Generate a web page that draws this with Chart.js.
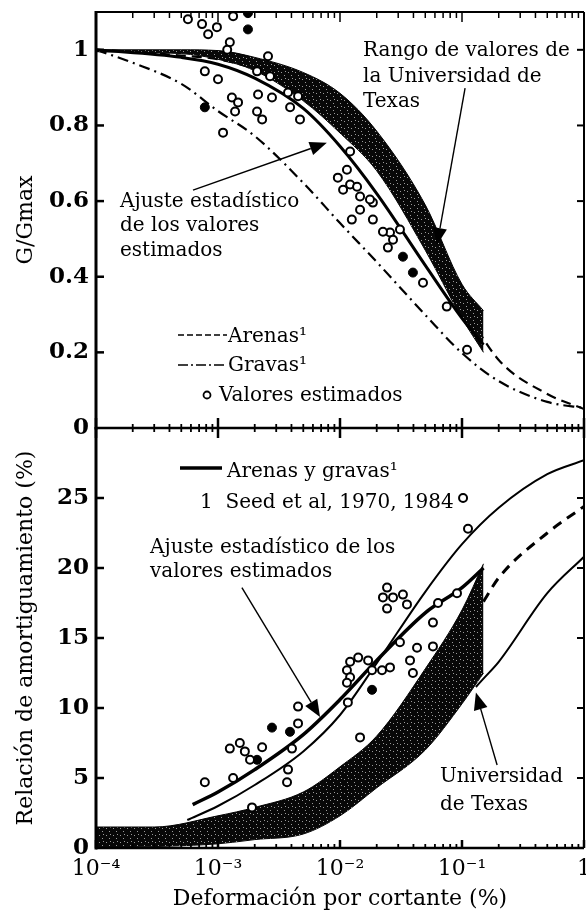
<!DOCTYPE html>
<html>
<head>
<meta charset="utf-8">
<script src="https://cdn.jsdelivr.net/npm/chart.js@4.4.1/dist/chart.umd.min.js"></script>
<style>
  html, body { margin: 0; padding: 0; background: #fff; }
  #wrap { position: relative; width: 586px; height: 910px; overflow: hidden; background: #fff; }
  #wrap canvas { position: absolute; left: 0; }
  #gTop { top: 0; }
  #dBot { top: 420px; }
</style>
</head>
<body>
<div id="wrap">
  <canvas id="gTop" width="586" height="440"></canvas>
  <canvas id="dBot" width="586" height="490"></canvas>
</div>
<script>
// ---- modulus reduction (G/Gmax) ----
const strainRef = [1e-4, 2e-4, 5e-4, 1e-3, 2e-3, 5e-3, 1e-2, 2e-2, 5e-2, 0.1, 0.2, 0.5, 1];
const gArenas = [1.0, 0.995, 0.985, 0.975, 0.95, 0.89, 0.81, 0.70, 0.50, 0.33, 0.18, 0.09, 0.05];
const gGravas = [1.0, 0.966, 0.91, 0.838, 0.772, 0.648, 0.542, 0.439, 0.299, 0.198, 0.124, 0.069, 0.053];

const strainTexasG = [1e-4, 5e-4, 1e-3, 2e-3, 5e-3, 1e-2, 2e-2, 5e-2, 0.1, 0.15];
const texasGUpper = [1.0, 1.0, 0.998, 0.98, 0.94, 0.885, 0.785, 0.59, 0.38, 0.31];
const texasGLower = [0.995, 0.99, 0.975, 0.945, 0.865, 0.78, 0.68, 0.47, 0.29, 0.20];

const strainFitG = [1e-4, 5e-4, 1e-3, 2e-3, 5e-3, 1e-2, 2e-2, 5e-2, 0.1, 0.15];
const fitG = [1.0, 0.98, 0.962, 0.925, 0.845, 0.745, 0.62, 0.43, 0.29, 0.22];

const estStrainG = [5.67e-4, 7.4e-4, 8.3e-4, 9.8e-4, 1.33e-3, 1.25e-3, 1.19e-3, 7.8e-4, 1.0e-3, 2.13e-3,
  2.77e-3, 1.3e-3, 1.46e-3, 1.38e-3, 2.09e-3, 2.3e-3, 1.1e-3, 2.57e-3, 2.09e-3, 2.67e-3,
  3.75e-3, 4.53e-3, 3.9e-3, 4.7e-3, 1.14e-2, 9.6e-3, 1.21e-2, 1.06e-2, 1.46e-2, 1.86e-2,
  1.46e-2, 1.25e-2, 1.86e-2, 1.21e-2, 1.38e-2, 1.76e-2, 2.57e-2, 2.47e-2, 3.1e-2, 2.25e-2,
  2.72e-2, 4.79e-2, 7.5e-2, 0.11];
const estG = [1.081, 1.068, 1.041, 1.06, 1.089, 1.02, 1.0, 0.943, 0.922, 0.882,
  0.874, 0.874, 0.861, 0.837, 0.837, 0.816, 0.781, 0.983, 0.943, 0.93,
  0.887, 0.877, 0.848, 0.816, 0.683, 0.662, 0.644, 0.63, 0.612, 0.596,
  0.577, 0.551, 0.551, 0.731, 0.638, 0.604, 0.517, 0.477, 0.525, 0.519,
  0.498, 0.384, 0.321, 0.207];
const estStrainGFilled = [1.76e-3, 1.76e-3, 7.8e-4, 3.28e-2, 3.96e-2];
const estGFilled = [1.097, 1.054, 0.848, 0.453, 0.411];

// ---- damping ratio (%) ----
const strainTexasD = [1e-4, 3e-4, 1e-3, 2e-3, 5e-3, 1e-2, 2e-2, 5e-2, 0.1, 0.15];
const texasDUpper = [1.5, 1.5, 2.3, 2.9, 4.0, 5.8, 8.0, 12.8, 17.0, 20.3];
const texasDLower = [0, 0.1, 0.3, 0.6, 1.0, 2.3, 4.3, 7.0, 10.3, 12.5];

const strainSeedUp = [5.6e-4, 1e-3, 2e-3, 5e-3, 1e-2, 2e-2, 5e-2, 0.1, 0.2, 0.5, 1];
const seedUp = [2.0, 3.0, 4.5, 6.9, 9.5, 13.2, 18.3, 21.7, 24.3, 26.7, 27.7];
const strainSeedLow = [0.13, 0.15, 0.2, 0.5, 1];
const seedLow = [11.5, 12.1, 13.3, 18.2, 20.8];
const strainSeedMid = [0.15, 0.2, 0.5, 1];
const seedMid = [17.6, 19.3, 22.5, 24.4];

const strainFitD = [6.2e-4, 1e-3, 2e-3, 5e-3, 1e-2, 2e-2, 5e-2, 0.1, 0.15];
const fitD = [3.1, 4.0, 5.6, 8.1, 10.6, 13.4, 16.8, 18.6, 20.0];

const estStrainD = [7.8e-4, 1.33e-3, 1.25e-3, 1.51e-3, 1.66e-3, 1.83e-3, 2.3e-3, 4.53e-3, 4.53e-3, 4.04e-3,
  3.75e-3, 3.68e-3, 1.9e-3, 0.112, 2.43e-2, 2.25e-2, 2.72e-2, 3.28e-2, 3.54e-2, 2.43e-2,
  6.36e-2, 5.78e-2, 9.1e-2, 3.1e-2, 4.28e-2, 3.75e-2, 5.78e-2, 1.21e-2, 1.41e-2, 1.7e-2,
  1.14e-2, 1.21e-2, 1.14e-2, 1.83e-2, 2.21e-2, 2.57e-2, 1.16e-2, 3.96e-2, 1.46e-2, 0.102];
const estD = [4.7, 5.0, 7.1, 7.5, 6.9, 6.3, 7.2, 8.9, 10.1, 7.1,
  5.6, 4.7, 2.9, 22.8, 18.6, 17.9, 17.9, 18.1, 17.4, 17.1,
  17.5, 16.1, 18.2, 14.7, 14.3, 13.4, 14.4, 13.3, 13.6, 13.4,
  12.7, 12.2, 11.8, 12.7, 12.7, 12.9, 10.4, 12.5, 7.9, 25.0];
const estStrainDFilled = [2.09e-3, 2.77e-3, 3.89e-3, 1.83e-2];
const estDFilled = [6.3, 8.6, 8.3, 11.3];

const gTicks = [0.2, 0.4, 0.6, 0.8, 1.0];
const dTicks = [5, 10, 15, 20, 25];

// ---- helpers ----
const SERIF = "'DejaVu Serif', 'Liberation Serif', serif";
const SUP = { '-': '\u207B', '0': '\u2070', '1': '\u00B9', '2': '\u00B2', '3': '\u00B3', '4': '\u2074' };
const pts = (xs, ys) => xs.map((x, i) => ({ x, y: ys[i] }));
const isDecade = v => { const e = Math.log10(v); return Math.abs(e - Math.round(e)) < 1e-9; };
function decadeLabel(v) {
  const e = Math.round(Math.log10(v));
  if (e === 0) return '1';
  return '10' + String(e).split('').map(c => SUP[c]).join('');
}
const logTicks = [];
for (let e = -4; e < 0; e++) for (let m = 1; m < 10; m++) logTicks.push(m * Math.pow(10, e));
logTicks.push(1);

function bandPattern() {
  const c = document.createElement('canvas');
  c.width = 7; c.height = 7;
  const g = c.getContext('2d');
  g.fillStyle = '#080808';
  g.fillRect(0, 0, 7, 7);
  g.fillStyle = '#9a9a9a';
  g.fillRect(1, 2, 1, 1);
  g.fillRect(4, 5, 1, 1);
  g.fillRect(5, 1, 1, 1);
  return g.createPattern(c, 'repeat');
}
const band = bandPattern();

// box, inner ticks on every side
const frame = {
  id: 'frame',
  afterDatasetsDraw(chart, args, o) {
    const { ctx, chartArea: a, scales: { x, y } } = chart;
    ctx.save();
    ctx.strokeStyle = '#000';
    const seg = (x0, y0, x1, y1, w) => {
      ctx.lineWidth = w;
      ctx.beginPath(); ctx.moveTo(x0, y0); ctx.lineTo(x1, y1); ctx.stroke();
    };
    if (o.topWidth) seg(a.left, a.top, a.right, a.top, o.topWidth);
    seg(a.right, a.top, a.right, a.bottom, 2);
    seg(a.left, a.bottom, a.right, a.bottom, o.bottomWidth);
    seg(a.left, a.top - 1, a.left, a.bottom + 1.5, 3);
    for (const v of o.yTicks) {
      const py = y.getPixelForValue(v);
      seg(a.left, py, a.left + 8, py, 2.5);
      seg(a.right - 7, py, a.right, py, 2);
    }
    for (const v of logTicks) {
      const px = x.getPixelForValue(v);
      const big = isDecade(v);
      if (o.topWidth) seg(px, a.top, px, a.top + (big ? 10 : 6), 1.5);
      const [up, down] = big ? o.major : o.minor;
      seg(px, a.bottom - up, px, a.bottom + down, big ? 2.5 : 1.8);
    }
    ctx.restore();
  }
};

// labels, pointer arrows and key samples
const notes = {
  id: 'notes',
  afterDatasetsDraw(chart, args, o) {
    const { ctx, scales: { x, y } } = chart;
    const dy = o.shift || 0;
    ctx.save();
    ctx.fillStyle = '#000';
    ctx.strokeStyle = '#000';
    ctx.textAlign = 'left';
    ctx.textBaseline = 'alphabetic';
    ctx.font = `20px ${SERIF}`;
    for (const t of o.texts) ctx.fillText(t.text, t.x, t.y - dy);
    for (const ar of o.arrows) {
      const x0 = x.getPixelForValue(ar.from[0]), y0 = y.getPixelForValue(ar.from[1]);
      const x1 = x.getPixelForValue(ar.to[0]), y1 = y.getPixelForValue(ar.to[1]);
      const ang = Math.atan2(y1 - y0, x1 - x0);
      const len = 17, half = 7;
      const bx = x1 - len * Math.cos(ang), by = y1 - len * Math.sin(ang);
      ctx.lineWidth = 1.4;
      ctx.beginPath(); ctx.moveTo(x0, y0); ctx.lineTo(bx, by); ctx.stroke();
      ctx.beginPath();
      ctx.moveTo(x1, y1);
      ctx.lineTo(bx + half * Math.sin(ang), by - half * Math.cos(ang));
      ctx.lineTo(bx - half * Math.sin(ang), by + half * Math.cos(ang));
      ctx.closePath();
      ctx.fill();
    }
    for (const k of o.keys) {
      const ky = k.y - dy;
      ctx.beginPath();
      if (k.kind === 'circle') {
        ctx.setLineDash([]);
        ctx.lineWidth = 1.8;
        ctx.arc(k.x0, ky, 3.5, 0, Math.PI * 2);
      } else {
        ctx.setLineDash(k.kind === 'dash' ? [6, 3] : k.kind === 'dashdot' ? [10, 3, 2, 3] : []);
        ctx.lineWidth = k.kind === 'solid' ? 3.5 : 1.6;
        ctx.moveTo(k.x0, ky); ctx.lineTo(k.x1, ky);
      }
      ctx.stroke();
    }
    ctx.restore();
  }
};

const openPts = { showLine: false, pointRadius: 4, pointBorderWidth: 2, pointBorderColor: '#000', pointBackgroundColor: '#fff', order: 0 };
const fullPts = { showLine: false, pointRadius: 4.5, pointBorderWidth: 1, pointBorderColor: '#000', pointBackgroundColor: '#000', order: 0 };
const curve = { pointRadius: 0, borderColor: '#000', fill: false, cubicInterpolationMode: 'monotone' };

const yTitle = text => ({
  display: true, text, color: '#000',
  font: { family: SERIF, size: 22, lineHeight: 1.2 },
  padding: { top: 13, bottom: 0 }
});
const yTickFont = { family: SERIF, size: 23, weight: 'bold' };

// keep the plot box fixed: no room reserved for end labels
const fixY = s => { s.width = 96; s.paddingTop = 0; s.paddingBottom = 0; };
const fixX = s => { s.height = 62; s.paddingLeft = 0; s.paddingRight = 0; };

// ---- top panel: G/Gmax ----
new Chart(document.getElementById('gTop'), {
  type: 'line',
  data: {
    datasets: [
      { ...openPts, data: pts(estStrainG, estG) },
      { ...fullPts, data: pts(estStrainGFilled, estGFilled) },
      { ...curve, data: pts(strainFitG, fitG), borderWidth: 3, order: 1 },
      { ...curve, data: pts(strainTexasG, texasGUpper), borderWidth: 1, backgroundColor: band, fill: '+1', order: 2 },
      { ...curve, data: pts(strainTexasG, texasGLower), borderWidth: 1, order: 2 },
      { ...curve, data: pts(strainRef, gArenas), borderWidth: 2.2, borderDash: [10, 6], order: 3 },
      { ...curve, data: pts(strainRef, gGravas), borderWidth: 2.2, borderDash: [11, 5, 2, 5], order: 3 }
    ]
  },
  options: {
    responsive: false,
    animation: false,
    events: [],
    layout: { autoPadding: false, padding: { top: 12, right: 2, bottom: 12, left: 0 } },
    scales: {
      x: { type: 'logarithmic', min: 1e-4, max: 1, display: false },
      y: {
        min: 0, max: 1.1,
        afterFit: fixY,
        grid: { display: false, drawTicks: false },
        border: { display: false },
        ticks: {
          stepSize: 0.2, padding: 7, color: '#000', font: yTickFont,
          callback: v => (Math.abs(v * 5 - Math.round(v * 5)) < 1e-6 ? String(+v.toFixed(1)) : '')
        },
        title: yTitle('G/Gmax')
      }
    },
    plugins: {
      legend: { display: false },
      tooltip: { enabled: false },
      frame: { topWidth: 2, bottomWidth: 2.5, yTicks: gTicks, major: [10, 10], minor: [4, 4] },
      notes: {
        texts: [
          { text: 'Rango de valores de', x: 363, y: 56 },
          { text: 'la Universidad de', x: 363, y: 82 },
          { text: 'Texas', x: 363, y: 107 },
          { text: 'Ajuste estadístico', x: 120, y: 207 },
          { text: 'de los valores', x: 120, y: 231 },
          { text: 'estimados', x: 120, y: 256 },
          { text: 'Arenas\u00B9', x: 228, y: 342 },
          { text: 'Gravas\u00B9', x: 228, y: 371 },
          { text: 'Valores estimados', x: 219, y: 401 }
        ],
        arrows: [
          { from: [0.106, 0.899], to: [6.24e-2, 0.484] },
          { from: [6.24e-4, 0.629], to: [7.8e-3, 0.754] }
        ],
        keys: [
          { kind: 'dash', x0: 178, x1: 227, y: 335 },
          { kind: 'dashdot', x0: 178, x1: 227, y: 365 },
          { kind: 'circle', x0: 207, y: 395 }
        ]
      }
    }
  },
  plugins: [frame, notes]
});

// ---- bottom panel: damping ratio ----
new Chart(document.getElementById('dBot'), {
  type: 'line',
  data: {
    datasets: [
      { ...openPts, data: pts(estStrainD, estD) },
      { ...fullPts, data: pts(estStrainDFilled, estDFilled) },
      { ...curve, data: pts(strainFitD, fitD), borderWidth: 3.5, order: 1 },
      { ...curve, data: pts(strainSeedUp, seedUp), borderWidth: 2, order: 1 },
      { ...curve, data: pts(strainTexasD, texasDUpper), borderWidth: 1, backgroundColor: band, fill: '+1', order: 2 },
      { ...curve, data: pts(strainTexasD, texasDLower), borderWidth: 1, order: 2 },
      { ...curve, data: pts(strainSeedLow, seedLow), borderWidth: 2, order: 3 },
      { ...curve, data: pts(strainSeedMid, seedMid), borderWidth: 3, borderDash: [10, 7], order: 3 }
    ]
  },
  options: {
    responsive: false,
    animation: false,
    events: [],
    layout: { autoPadding: false, padding: { top: 8, right: 2, bottom: 0, left: 0 } },
    scales: {
      x: {
        type: 'logarithmic', min: 1e-4, max: 1,
        afterFit: fixX,
        grid: { display: false, drawTicks: false },
        border: { display: false },
        ticks: {
          autoSkip: false, maxRotation: 0, padding: 8, color: '#000',
          font: { family: SERIF, size: 22 },
          callback: v => (isDecade(v) ? decadeLabel(v) : '')
        },
        title: {
          display: true, text: 'Deformación por cortante (%)', color: '#000',
          font: { family: SERIF, size: 22, lineHeight: 1 },
          padding: { top: 0, bottom: 0 }
        }
      },
      y: {
        min: 0, max: 30,
        afterFit: fixY,
        grid: { display: false, drawTicks: false },
        border: { display: false },
        ticks: {
          stepSize: 5, padding: 7, color: '#000', font: yTickFont,
          callback: v => (v < 30 ? String(v) : '')
        },
        title: yTitle('Relación de amortiguamiento (%)')
      }
    },
    plugins: {
      legend: { display: false },
      tooltip: { enabled: false },
      frame: { topWidth: 0, bottomWidth: 2.5, yTicks: dTicks, major: [8, 0], minor: [4, 0] },
      notes: {
        shift: 420,
        texts: [
          { text: 'Arenas y gravas\u00B9', x: 227, y: 477 },
          { text: '1  Seed et al, 1970, 1984', x: 200, y: 508 },
          { text: 'Ajuste estadístico de los', x: 150, y: 553 },
          { text: 'valores estimados', x: 150, y: 577 },
          { text: 'Universidad', x: 440, y: 782 },
          { text: 'de Texas', x: 440, y: 810 }
        ],
        arrows: [
          { from: [1.57e-3, 18.6], to: [6.86e-3, 9.36] },
          { from: [0.194, 5.93], to: [0.130, 11.1] }
        ],
        keys: [
          { kind: 'solid', x0: 180, x1: 222, y: 468 }
        ]
      }
    }
  },
  plugins: [frame, notes]
});
</script>
</body>
</html>
